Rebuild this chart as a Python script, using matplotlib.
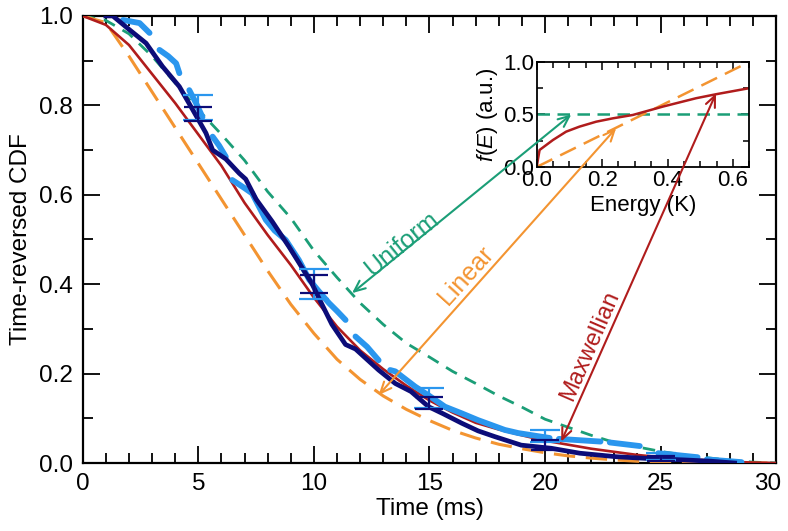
import numpy as np
import matplotlib
matplotlib.use("Agg")
import matplotlib.pyplot as plt
from matplotlib.ticker import MultipleLocator, FormatStrFormatter
from matplotlib.transforms import ScaledTranslation

plt.rcParams['font.family'] = ['Liberation Sans', 'DejaVu Sans']
plt.rcParams['mathtext.fontset'] = 'custom'
plt.rcParams['mathtext.rm'] = 'Liberation Sans'
plt.rcParams['mathtext.it'] = 'Liberation Sans:italic'

# colours
c_green = '#1b9e77'
c_orange = '#f39431'
c_red = '#b01c1c'
c_navy = '#0c0c78'
c_blue = '#2a96ee'

# model curves (time in ms, time-reversed CDF)
t_model = [0, 1, 2, 3, 4, 5, 6, 7, 8, 9, 10, 11, 12, 13, 14, 15, 16, 17, 18, 19,
           20, 21, 22, 23, 24, 25, 26, 27, 28, 29, 30]
maxwell = [1.0, 0.98, 0.935, 0.87, 0.805, 0.735, 0.665, 0.582, 0.51, 0.443, 0.37,
           0.305, 0.252, 0.21, 0.173, 0.14, 0.113, 0.09, 0.075, 0.062, 0.05, 0.041,
           0.032, 0.025, 0.018, 0.013, 0.009, 0.006, 0.003, 0.001, 0.0]
uniform = [1.0, 0.99, 0.96, 0.91, 0.85, 0.79, 0.735, 0.677, 0.607, 0.548, 0.475,
           0.415, 0.358, 0.31, 0.268, 0.237, 0.205, 0.178, 0.15, 0.125, 0.098, 0.08,
           0.062, 0.046, 0.036, 0.026, 0.018, 0.012, 0.006, 0.002, 0.0]
linear = [1.0, 0.985, 0.91, 0.83, 0.75, 0.67, 0.59, 0.51, 0.43, 0.355, 0.29, 0.232,
          0.187, 0.15, 0.12, 0.095, 0.073, 0.056, 0.042, 0.032, 0.023, 0.016, 0.011,
          0.007, 0.004, 0.002, 0.001, 0.0, 0.0, 0.0, 0.0]

# measured data, dark (navy) trace
t_navy = [1.0, 1.3, 2.0, 2.74, 3.45, 4.18, 4.76, 5.33, 5.62, 6.19, 6.77, 7.05, 7.5,
          8.2, 8.92, 9.91, 10.3, 10.78, 11.37, 11.8, 12.8, 13.52, 14.2, 14.96, 15.6,
          16.4, 17.1, 17.83, 18.97, 20.27, 21.5, 23.1, 24.5, 26.0, 27.2, 28.2]
y_navy = [1.0, 1.0, 0.97, 0.939, 0.887, 0.842, 0.79, 0.738, 0.70, 0.68, 0.648,
          0.635, 0.59, 0.54, 0.484, 0.402, 0.36, 0.31, 0.265, 0.255, 0.208, 0.178,
          0.16, 0.126, 0.11, 0.089, 0.072, 0.059, 0.04, 0.033, 0.022, 0.014, 0.01,
          0.007, 0.004, 0.0]

# measured data, light blue trace (nan = gap in the trace)
nan = np.nan
t_blue = [1.74, 2.46, 2.89, nan, 3.32, 3.7, 4.04, 4.18, nan, 4.61, 4.9, 5.18, nan,
          5.62, 5.9, 6.19, nan, 6.47, 7.0, 7.33, 7.63, 7.92, 8.3, 8.78, 9.35, 9.8,
          10.2, 10.65, 11.0, 11.37, nan, 11.8, 12.3, 12.8, nan, 13.3, 13.52, 14.38,
          15.0, 15.67, 16.4, 17.1, 18.26, 18.84, 20.2, nan, 20.6, 22.4, nan, 22.8,
          24.1, nan, 24.9, 26.6, nan, 27.0, 28.5]
y_blue = [0.991, 0.984, 0.962, nan, 0.924, 0.91, 0.894, 0.872, nan, 0.834, 0.805,
          0.774, nan, 0.73, 0.71, 0.685, nan, 0.633, 0.615, 0.603, 0.573, 0.544, 0.52,
          0.499, 0.454, 0.41, 0.385, 0.358, 0.34, 0.32, nan, 0.283, 0.26, 0.23, nan,
          0.208, 0.205, 0.171, 0.15, 0.126, 0.111, 0.096, 0.074, 0.067, 0.056, nan,
          0.054, 0.048, nan, 0.046, 0.038, nan, 0.022, 0.013, nan, 0.008, 0.002]

# error bars
t_err = [5, 10, 15, 20, 25]
blue_c = [0.795, 0.40, 0.145, 0.06, 0.014]
blue_e = [0.028, 0.034, 0.023, 0.014, 0.008]
navy_c = [0.78, 0.40, 0.134, 0.04, 0.01]
navy_e = [0.016, 0.02, 0.014, 0.011, 0.006]

# inset: energy distributions
E_max = [0.0, 0.009, 0.05, 0.09, 0.131, 0.182, 0.233, 0.294, 0.385, 0.487, 0.548, 0.65]
f_max = [0.0, 0.162, 0.257, 0.336, 0.384, 0.431, 0.463, 0.495, 0.574, 0.654, 0.692, 0.75]
E_lin = [0.0, 0.65]
f_lin = [0.0, 1.0]
E_uni = [0.0, 0.65]
f_uni = [0.5, 0.5]

fig = plt.figure(figsize=(7.88, 5.31), dpi=100)
ax = fig.add_axes([0.105, 0.128, 0.880, 0.842])

ax.plot(t_model, uniform, color=c_green, lw=2.0, dashes=(4.5, 3.2), zorder=3)
ax.plot(t_model, linear, color=c_orange, lw=2.2, dashes=(7, 3.5), zorder=3)
ax.plot(t_model, maxwell, color=c_red, lw=1.9, zorder=4)
ax.plot(t_blue, y_blue, color=c_blue, lw=4.2, solid_capstyle='round', zorder=5)
ax.plot(t_navy, y_navy, color=c_navy, lw=3.4, zorder=6)
ax.errorbar(t_err, blue_c, yerr=blue_e, fmt='none', ecolor=c_blue, elinewidth=1.6,
            capsize=11, capthick=1.6, zorder=7)
ax.errorbar(t_err, navy_c, yerr=navy_e, fmt='none', ecolor=c_navy, elinewidth=1.6,
            capsize=10, capthick=1.6, zorder=8)

ax.set_xlim(0, 30)
ax.set_ylim(0, 1.0)
ax.xaxis.set_major_locator(MultipleLocator(5))
ax.xaxis.set_minor_locator(MultipleLocator(1))
ax.yaxis.set_major_locator(MultipleLocator(0.2))
ax.yaxis.set_minor_locator(MultipleLocator(0.1))
ax.yaxis.set_major_formatter(FormatStrFormatter('%.1f'))
ax.tick_params(which='both', direction='in', top=True, right=True, labelsize=17.5, width=1.3)
ax.tick_params(which='major', length=12, pad=7)
ax.tick_params(which='minor', length=7.5)
for s in ax.spines.values():
    s.set_linewidth(1.6)
ax.set_xlabel('Time (ms)', fontsize=17.5, labelpad=2)
ax.set_ylabel('Time-reversed CDF', fontsize=17.5, labelpad=5)

# keep the last x tick label ("30") inside the figure
fig.canvas.draw()
last = [lb for lb in ax.get_xticklabels() if lb.get_text() == '30']
for lb in last:
    lb.set_transform(lb.get_transform() + ScaledTranslation(-0.09, 0, fig.dpi_scale_trans))

# inset
axins = fig.add_axes([0.681, 0.6855, 0.270, 0.198])
axins.plot(E_uni, f_uni, color=c_green, lw=1.8, dashes=(5, 3))
axins.plot(E_lin, f_lin, color=c_orange, lw=1.8, dashes=(7, 3.5))
axins.plot(E_max, f_max, color=c_red, lw=1.8)
axins.set_xlim(0, 0.65)
axins.set_ylim(0, 1.0)
axins.xaxis.set_major_locator(MultipleLocator(0.2))
axins.xaxis.set_minor_locator(MultipleLocator(0.05))
axins.yaxis.set_major_locator(MultipleLocator(0.5))
axins.yaxis.set_minor_locator(MultipleLocator(0.25))
axins.xaxis.set_major_formatter(FormatStrFormatter('%.1f'))
axins.yaxis.set_major_formatter(FormatStrFormatter('%.1f'))
axins.tick_params(which='both', direction='in', top=True, right=True, labelsize=16, width=1.1)
axins.tick_params(which='major', length=6, pad=2)
axins.tick_params(which='minor', length=4)
for s in axins.spines.values():
    s.set_linewidth(1.3)
axins.set_xlabel('Energy (K)', fontsize=16, labelpad=3)
axins.set_ylabel('$f$($E$) (a.u.)', fontsize=16, labelpad=2)

# arrows from main curves to inset distributions
arrows = [
    ((11.65, 0.38), (0.106, 0.5), c_green),
    ((12.8, 0.152), (0.243, 0.37), c_orange),
    ((20.7, 0.048), (0.548, 0.70), c_red),
]
for (tx, ty), (ex, ey), col in arrows:
    axins.annotate('', xy=(ex, ey), xycoords='data', xytext=(tx, ty),
                   textcoords=ax.transData, annotation_clip=False,
                   arrowprops=dict(arrowstyle='<->,head_length=0.8,head_width=0.35',
                                   color=col, lw=1.5, shrinkA=0, shrinkB=0))

ax.text(13.8, 0.49, 'Uniform', color=c_green, fontsize=18, rotation=39,
        ha='center', va='center', rotation_mode='anchor')
ax.text(16.6, 0.42, 'Linear', color=c_orange, fontsize=18, rotation=48,
        ha='center', va='center', rotation_mode='anchor')
ax.text(21.95, 0.262, 'Maxwellian', color=c_red, fontsize=17, rotation=66.5,
        ha='center', va='center', rotation_mode='anchor')

fig.savefig('out.png', dpi=100)
